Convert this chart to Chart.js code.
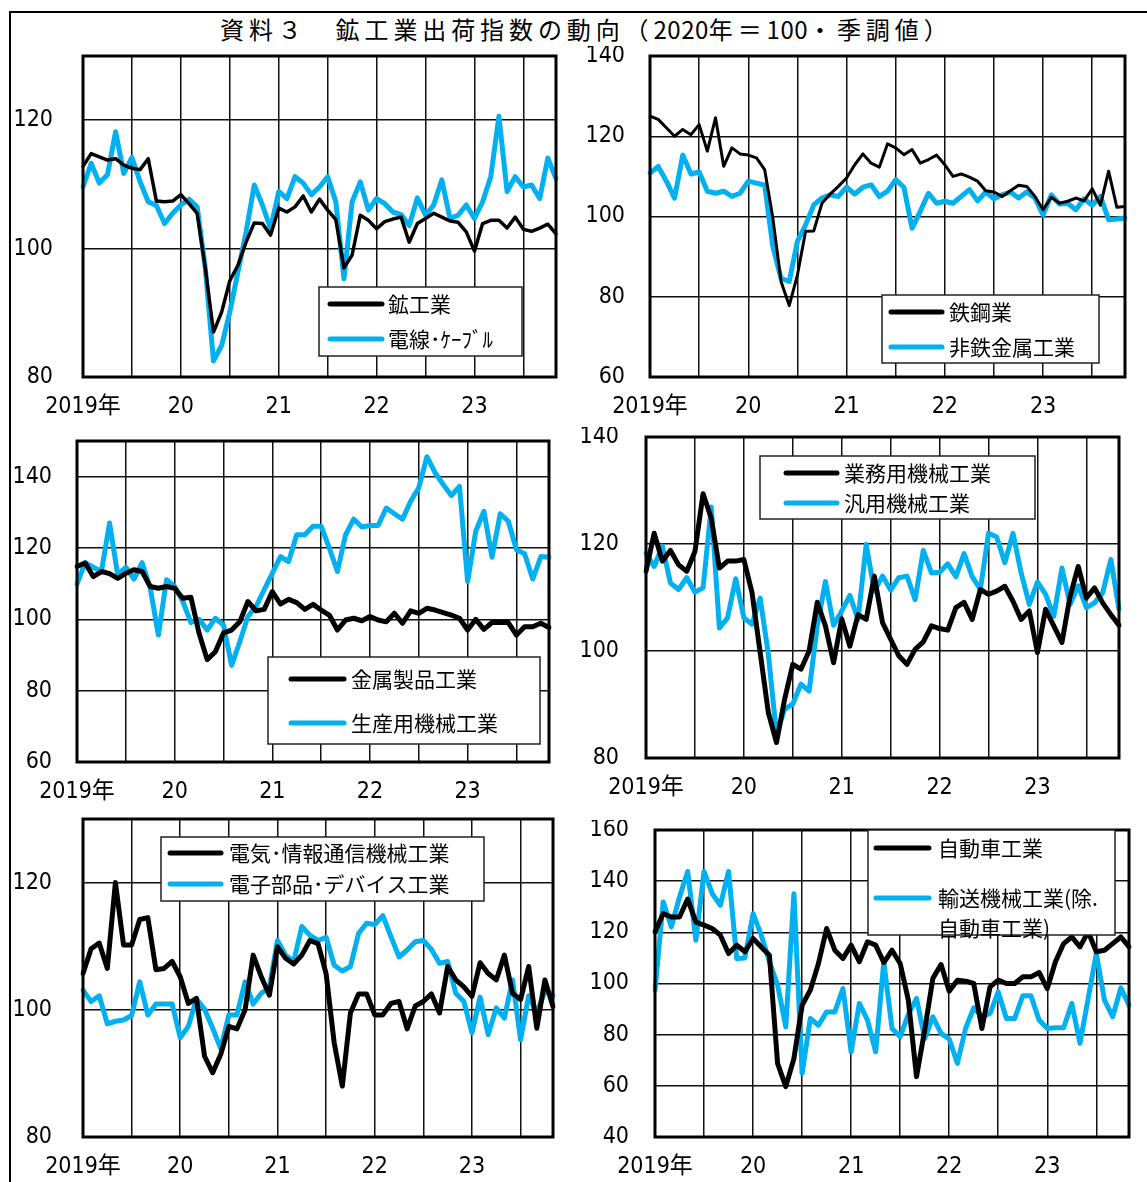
<!DOCTYPE html>
<html lang="ja">
<head>
<meta charset="utf-8">
<title>鉱工業出荷指数の動向</title>
<script src="https://cdn.jsdelivr.net/npm/chart.js@4.4.1/dist/chart.umd.min.js"></script>
<style>
  html, body { margin: 0; padding: 0; background: #fff; }
  #page { position: relative; width: 1147px; height: 1182px; overflow: hidden; background: #fff; }
  #frame { position: absolute; left: 9px; top: 11px; width: 1200px; height: 1200px;
           border-left: 2px solid #000; border-top: 2px solid #000; }
  #title { position: absolute; left: 220px; top: 13px; text-align: left;
           font-family: 'Noto Sans CJK JP', sans-serif; font-size: 24px; letter-spacing: 4.9px;
           line-height: 32px; white-space: nowrap; color: #000; }
  #title .num { letter-spacing: 0.5px; }
  canvas { position: absolute; }
</style>
</head>
<body>
<div id="page">
  <div id="frame"></div>
  <div id="title">資料３　鉱工業出荷指数の動向（<span class="num">2020</span>年＝<span class="num">100</span>・季調値）</div>
</div>
<script>
// Months 2019-01 .. 2023-11
const months = [
  '2019-01','2019-02','2019-03','2019-04','2019-05','2019-06','2019-07','2019-08','2019-09','2019-10','2019-11','2019-12',
  '2020-01','2020-02','2020-03','2020-04','2020-05','2020-06','2020-07','2020-08','2020-09','2020-10','2020-11','2020-12',
  '2021-01','2021-02','2021-03','2021-04','2021-05','2021-06','2021-07','2021-08','2021-09','2021-10','2021-11','2021-12',
  '2022-01','2022-02','2022-03','2022-04','2022-05','2022-06','2022-07','2022-08','2022-09','2022-10','2022-11','2022-12',
  '2023-01','2023-02','2023-03','2023-04','2023-05','2023-06','2023-07','2023-08','2023-09','2023-10','2023-11'
];
const yearTickIdx = [0, 12, 24, 36, 48];
const yearTickLabels = ['2019年', '20', '21', '22', '23'];
const gridIdx = [0, 6, 12, 18, 24, 30, 36, 42, 48, 54, 58];

// 鉱工業 / 電線・ケーブル
const kokogyo = [112.8,114.8,114.3,113.8,114,113,112.5,112.3,114,107.4,107.3,107.4,108.4,107,105.5,96.9,87,90.1,95,97.4,101,104,103.9,102.1,106.3,105.7,106.5,108.2,105.7,107.7,106,104.5,97,99,105.2,104.4,103.1,104.2,104.6,104.9,101,103.9,104.7,105.5,104.9,104.3,104.1,102.6,99.6,103.9,104.4,104.4,103.2,104.9,103,102.7,103.2,103.8,102.3];
const densen = [109.6,113.3,110.2,111.5,118.2,111.7,114.2,110.4,107.3,106.7,103.9,105.5,106.8,107.7,106.5,96.9,82.5,84.9,90.1,96.4,102.6,109.9,106.8,103.1,108.9,107.8,111.2,110.2,108.4,109.6,111.2,107.3,95.3,107.3,110.4,106,107.8,107,105.7,105.3,103.6,107.9,105.2,106.8,110.7,104.7,105.2,106.8,104.7,107.3,111.2,120.6,108.9,111.2,109.6,109.9,107.8,114.1,110.9];
// 鉄鋼業 / 非鉄金属工業
const tekko = [125,124.2,122.1,120,121.7,120.4,122.9,116.3,124.6,112.5,117.1,115.6,115.3,114.6,111.7,99.6,83.8,77.8,85.4,96.3,96.4,103.3,105.6,107.5,109.6,112.9,115.6,113.3,112.3,118.1,117.1,115.4,116.7,113.3,114.2,115.3,112.9,110,110.6,109.8,108.8,106.4,106.1,105,106.4,107.8,107.5,105,101.7,104.8,103.3,103.8,104.6,103.9,106.9,102.8,111.3,102.3,102.5];
const hitetsu = [110.8,112.5,108.8,104.6,115.3,110.6,111.1,106.3,105.8,106.3,105,105.8,108.8,108.3,107.8,92.5,84.6,83.8,93.8,97.9,102.9,104.6,105.4,105,107.3,105.6,107.3,107.9,105,106.3,109.2,107.3,97.1,101.3,105.8,103.3,103.8,103.3,105,106.7,103.9,106.1,104.4,105.4,106.1,104.6,106.1,104.6,100.4,105.4,103.1,103.3,101.7,104.4,102.8,105,99.2,99.4,99.6];
// 金属製品工業 / 生産用機械工業
const kinzoku = [114.8,115.8,112,113.4,112.8,111.5,112.9,113.9,113.4,109.2,108.7,109.2,108.7,105.9,106.2,96.1,88.7,90.9,96.2,97,99.3,105,102.4,102.8,107.8,104.3,105.6,104.7,102.8,104.2,102.6,101.2,97,99.8,100.3,99.6,100.8,99.8,99.3,101.7,98.9,102.4,101.7,103.1,102.6,101.9,101.2,100.3,97,100,97.2,99.1,99.1,99.1,95.6,97.9,97.9,98.9,97.7];
const seisanyo = [109.9,115.9,114.6,113.4,127,112.5,114.6,111.3,115.9,108.7,95.6,111.1,109.2,105,99.1,100,97,100.3,98.4,87.1,93.7,100.8,103.6,108.3,112.9,117.6,116.2,123.7,123.7,126.1,126.1,120,113.4,123.7,128.1,125.9,126.3,126.3,131.2,129.6,128.1,133.1,136.9,145.6,141.1,137.8,134.7,137.3,110.6,124.7,130.3,117.4,129.6,127.5,119.5,118.4,111.3,117.6,117.4];
// 業務用機械工業 / 汎用機械工業
const gyomuyo = [114.9,122,116.8,118.8,116.1,114.9,118.6,129.4,124.8,115.5,116.8,116.8,117.1,110.9,99.7,88.5,82.9,91,97.5,96.6,100,109.1,104.7,97.8,106,100.9,106.8,105.9,114,105.3,102.2,99.1,97.5,100.3,101.7,104.7,104.2,103.9,108.1,109.1,105.9,111.5,110.6,111.2,112.1,109.3,105.9,107.5,99.7,107.8,104.7,101.6,110.2,115.8,109.9,111.8,109,106.8,104.8];
const hanyo = [118.3,115.8,119.6,112.7,111.5,113.7,111,111.8,126.9,104.3,106.2,113.5,106.2,105,109.9,99.4,84.5,89.1,90.1,93.8,92.5,104.7,113,104.8,107.5,110.4,105.9,119.9,111.2,114,111.4,113.7,114,109.6,118.8,114.6,114.7,116.3,113.9,118.2,113.9,111.5,122,121.3,116.5,122,114.6,108.7,112.9,110.6,106.5,115.5,108.7,112.2,108.1,109,110.9,117.1,107.8];
// 電気・情報通信機械工業 / 電子部品・デバイス工業
const denki = [105.7,109.6,110.5,106.5,120,110.2,110.2,114.2,114.5,106.3,106.5,107.6,105.2,101,101.8,92.7,90.1,93,97.4,97,100,108.6,105.2,102.3,109.9,108.1,107.2,108.6,110.9,110.4,105.7,94.8,88,99.5,102.5,102.5,99.2,99.2,101,101.3,97,100.6,101.3,102.5,99.5,106.8,104.7,103.6,102.1,107.4,105.7,104.7,108.6,102.6,101.6,106.8,97.1,104.7,100.5];
const denshi = [103.1,101.3,102.2,97.8,98.2,98.4,99.1,104.4,99.2,100.9,100.9,100.9,95.6,97.4,101.7,100.1,97.1,93.9,99.2,99.2,104.4,100.9,102.6,103.5,110.9,108.6,107.6,113.1,111.7,110.9,111.4,107,106.1,106.8,112,113.6,113.4,114.8,111.5,108.3,109.4,110.7,110.9,109.5,107.3,107.6,102.6,101.3,96.4,102,96.1,100.3,98.7,104.7,95.3,102.2,99.5,102.9,102.3];
// 自動車工業 / 輸送機械工業（除.自動車工業）
const jidosha = [120.2,127.3,126,126,133,124,122.8,121.5,118.9,111.7,115,112.4,117.6,114.3,111,68.8,59.7,70.7,91.5,97.4,107.8,121.5,113,109.8,115,108.5,116.3,115,108.2,113,107.8,93.5,63.6,81.8,102,107.4,97,101.3,100.9,100,82.4,98.7,101.3,100,100,102.6,102.6,104.3,98,108.5,115.6,118.2,114.3,120.2,112.4,113,115.6,118.2,114.3];
const yuso = [97.4,131.9,122.1,133.8,143.8,116.9,143.8,135.1,130.6,143.8,109.8,110,127.3,118.9,108.5,99.4,83.1,135.1,64.9,86.3,83.7,88.9,88.9,98,73.3,92.2,85.7,73.3,108.5,82.4,79.2,87.9,94.1,78.5,87,80.5,78.3,68.8,82.4,90.5,87,88.3,96.7,86.3,86.3,95.2,95.2,85.7,82.4,82.7,82.7,92.2,76.6,94.1,111.7,93.5,87,98.3,91.5];

const BLUE = '#00B0F0';
const AXIS_FONT = "'Liberation Sans Narrow','DejaVu Sans Condensed','Noto Sans CJK JP',sans-serif";
const LEGEND_FONT = "'Noto Sans CJK JP',sans-serif";

const yearLabelAt = {};
yearTickIdx.forEach((idx, k) => { yearLabelAt[idx] = yearTickLabels[k]; });

// Panel layout: plot box [left, top, right, bottom] in page pixels, y range, legend placement
const panels = [
  { box: [83, 56, 556, 377], yMin: 80, yMax: 130, yTicks: [80, 100, 120], yPad: 30,
    series: [ { label: '鉱工業', data: kokogyo, color: '#000', width: 3.5 },
              { label: '電線･ｹｰﾌﾞﾙ', data: densen, color: BLUE, width: 5 } ],
    legend: { box: [319, 287, 522, 356], line: [330, 382], rows: [304, 339], text: 388 } },
  { box: [650, 56, 1125, 377], yMin: 60, yMax: 140, yTicks: [60, 80, 100, 120, 140], yPad: 25,
    series: [ { label: '鉄鋼業', data: tekko, color: '#000', width: 3 },
              { label: '非鉄金属工業', data: hitetsu, color: BLUE, width: 5 } ],
    legend: { box: [882, 295, 1099, 363], line: [891, 942], rows: [312, 347], text: 949 } },
  { box: [77, 441, 549, 762], yMin: 60, yMax: 150, yTicks: [60, 80, 100, 120, 140], yPad: 25,
    series: [ { label: '金属製品工業', data: kinzoku, color: '#000', width: 5 },
              { label: '生産用機械工業', data: seisanyo, color: BLUE, width: 5 } ],
    legend: { box: [268, 657, 540, 744], line: [291, 344], rows: [679, 723], text: 351 } },
  { box: [646, 437, 1119, 758], yMin: 80, yMax: 140, yTicks: [80, 100, 120, 140], yPad: 27,
    series: [ { label: '業務用機械工業', data: gyomuyo, color: '#000', width: 5 },
              { label: '汎用機械工業', data: hanyo, color: BLUE, width: 5 } ],
    legend: { box: [760, 456, 1035, 519], line: [786, 837], rows: [473, 503], text: 844 } },
  { box: [83, 819, 553, 1137], yMin: 80, yMax: 130, yTicks: [80, 100, 120], yPad: 31,
    series: [ { label: '電気･情報通信機械工業', data: denki, color: '#000', width: 5 },
              { label: '電子部品･デバイス工業', data: denshi, color: BLUE, width: 5 } ],
    legend: { box: [161, 837, 484, 901], line: [170, 221], rows: [853, 884], text: 229 } },
  { box: [655, 830, 1129, 1137], yMin: 40, yMax: 160, yTicks: [40, 60, 80, 100, 120, 140, 160], yPad: 26,
    series: [ { label: '自動車工業', data: jidosha, color: '#000', width: 5 },
              { label: '輸送機械工業(除.\n自動車工業)', data: yuso, color: BLUE, width: 5 } ],
    legend: { box: [868, 830, 1115, 935], line: [876, 929], rows: [848, 898], text: 938, lineGap: 30 } }
];

Chart.defaults.font.family = AXIS_FONT;
Chart.defaults.color = '#000';

const page = document.getElementById('page');
const Y_AXIS_W = 70, PAD_TOP = 10, PAD_RIGHT = 10, X_AXIS_H = 50;

// the frame is fixed by the page layout, so scale label overhang must not shrink it
function noScalePadding(s) {
  s.paddingTop = 0; s.paddingBottom = 0; s.paddingLeft = 0; s.paddingRight = 0;
}

function makePanel(p) {
  const [L, T, R, B] = p.box;
  const cx = L - Y_AXIS_W, cy = T - PAD_TOP;
  const canvas = document.createElement('canvas');
  canvas.width = R - L + Y_AXIS_W + PAD_RIGHT;
  canvas.height = B - T + PAD_TOP + X_AXIS_H;
  canvas.style.left = cx + 'px';
  canvas.style.top = cy + 'px';
  page.appendChild(canvas);

  // plot frame and boxed legend drawn over the lines
  const decor = {
    id: 'panelDecor',
    afterDatasetsDraw(chart) {
      const ctx = chart.ctx, a = chart.chartArea, lg = p.legend;
      ctx.save();
      ctx.strokeStyle = '#000';
      ctx.lineWidth = 3;
      ctx.strokeRect(a.left, a.top, a.right - a.left, a.bottom - a.top);

      const [x1, y1, x2, y2] = lg.box;
      ctx.fillStyle = '#fff';
      ctx.fillRect(x1 - cx, y1 - cy, x2 - x1, y2 - y1);
      ctx.lineWidth = 1.5;
      ctx.strokeStyle = '#222';
      ctx.strokeRect(x1 - cx, y1 - cy, x2 - x1, y2 - y1);

      chart.data.datasets.forEach((ds, i) => {
        const y = lg.rows[i] - cy;
        ctx.strokeStyle = ds.borderColor;
        ctx.lineWidth = 5;
        ctx.lineCap = 'round';
        ctx.beginPath();
        ctx.moveTo(lg.line[0] - cx, y);
        ctx.lineTo(lg.line[1] - cx, y);
        ctx.stroke();
        ctx.fillStyle = '#000';
        ctx.font = '21px ' + LEGEND_FONT;
        ctx.textBaseline = 'middle';
        ctx.textAlign = 'left';
        ds.label.split('\n').forEach((t, k) => {
          ctx.fillText(t, lg.text - cx, y + k * (lg.lineGap || 0));
        });
      });
      ctx.restore();
    }
  };

  new Chart(canvas, {
    type: 'line',
    data: {
      labels: months,
      datasets: p.series.map(s => ({
        label: s.label, data: s.data, borderColor: s.color, backgroundColor: s.color,
        borderWidth: s.width, pointRadius: 0, tension: 0, fill: false,
        borderJoinStyle: 'round', borderCapStyle: 'round'
      }))
    },
    options: {
      responsive: false, animation: false, devicePixelRatio: 1,
      layout: { autoPadding: false, padding: { top: PAD_TOP, right: PAD_RIGHT, left: 0, bottom: 0 } },
      plugins: { legend: { display: false }, tooltip: { enabled: false } },
      scales: {
        x: {
          type: 'category', offset: false,
          border: { display: false },
          grid: { color: '#111', lineWidth: 1.5, drawTicks: false },
          afterBuildTicks: s => { s.ticks = gridIdx.map(v => ({ value: v })); },
          afterFit: s => { s.height = X_AXIS_H; noScalePadding(s); },
          ticks: {
            autoSkip: false, maxRotation: 0, minRotation: 0, padding: 16,
            font: { size: 23 },
            callback: v => yearLabelAt[v] !== undefined ? yearLabelAt[v] : ''
          }
        },
        y: {
          min: p.yMin, max: p.yMax,
          border: { display: false },
          grid: { color: '#111', lineWidth: 1.5, drawTicks: false },
          afterBuildTicks: s => {
            const vals = p.yTicks.includes(p.yMax) ? p.yTicks : p.yTicks.concat([p.yMax]);
            s.ticks = vals.map(v => ({ value: v }));
          },
          afterFit: s => { s.width = Y_AXIS_W; noScalePadding(s); },
          ticks: {
            padding: p.yPad, font: { size: 23 },
            callback: v => p.yTicks.includes(v) ? String(v) : ''
          }
        }
      }
    },
    plugins: [decor]
  });
}

panels.forEach(makePanel);
</script>
</body>
</html>
